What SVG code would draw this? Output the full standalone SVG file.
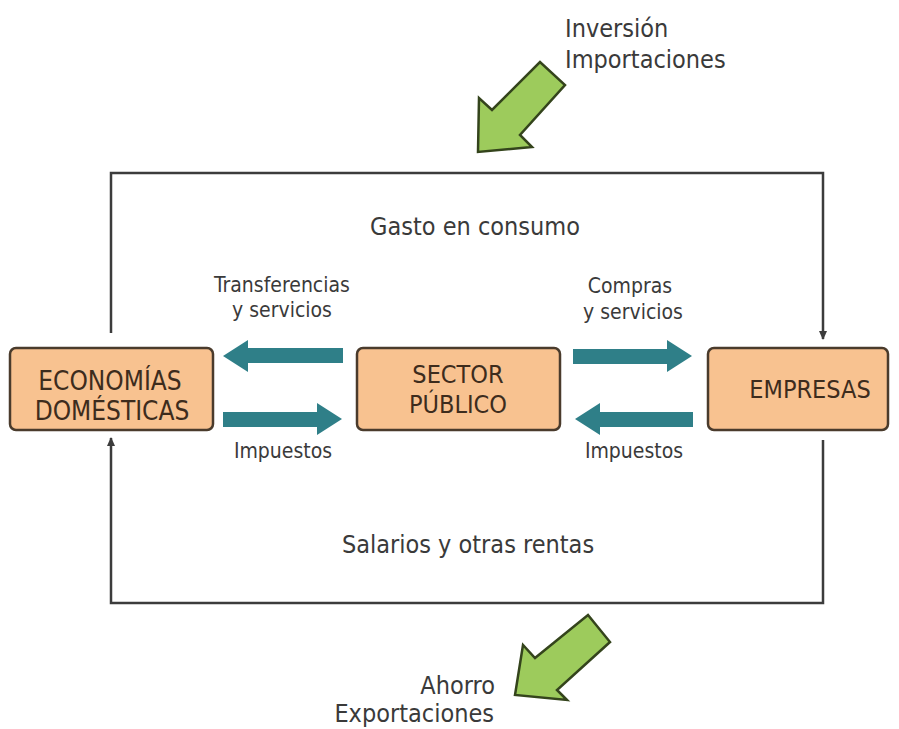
<svg xmlns="http://www.w3.org/2000/svg" width="899" height="729" viewBox="0 0 899 729">
<style>
  text { font-family: "DejaVu Sans Condensed", "DejaVu Sans", sans-serif; font-stretch: condensed; fill: #3a3a3a; }
  .box { fill: #F8C290; stroke: #4a3b2c; stroke-width: 2.5; }
  .bt { fill: #3d2c1d; font-size: 25px; text-anchor: middle; }
  .big { font-size: 25px; }
  .sm { font-size: 21px; text-anchor: middle; }
  .mid { text-anchor: middle; }
  .line { fill: none; stroke: #3c3c3c; stroke-width: 2.5; }
  .teal { fill: #2F7F88; }
  .green { fill: #9DCB5C; stroke: #34441c; stroke-width: 2.5; stroke-linejoin: miter; }
</style>
<defs>
  <marker id="ah" markerWidth="10" markerHeight="10" refX="8" refY="5" orient="auto" markerUnits="userSpaceOnUse">
    <path d="M0,1 L9,5 L0,9 z" fill="#3c3c3c"/>
  </marker>
</defs>
<rect width="899" height="729" fill="#ffffff"/>

<g id="connectors">
  <path class="line" d="M111,333 V173 H823 V339" marker-end="url(#ah)"/>
  <path class="line" d="M823,440 V603 H111 V438" marker-end="url(#ah)"/>
  <polygon class="teal" points="223,356 248,340 248,348 343,348 343,363 248,363 248,372"/>
  <polygon class="teal" points="342,419 317,403 317,412 223,412 223,427 317,427 317,435"/>
  <polygon class="teal" points="692,356 667,340 667,349 573,349 573,364 667,364 667,372"/>
  <polygon class="teal" points="575,419 600,403 600,412 693,412 693,427 600,427 600,435"/>
  <polygon class="green" points="478,152 479,98 492,110 540,62 565,85 520,135 532,147"/>
  <polygon class="green" points="515,695 523,645 535,658 588,615 610,642 557,690 567,700"/>
</g>

<g id="economias">
  <rect class="box" x="10" y="348" width="203" height="82" rx="6"/>
  <text class="bt" x="110" y="390" style="font-size:26px">ECONOMÍAS</text>
  <text class="bt" x="112" y="420" style="font-size:26px">DOMÉSTICAS</text>
</g>

<g id="sector">
  <rect class="box" x="357" y="348" width="203" height="82" rx="6"/>
  <text class="bt" x="458" y="383">SECTOR</text>
  <text class="bt" x="458" y="413">PÚBLICO</text>
</g>

<g id="empresas">
  <rect class="box" x="708" y="348" width="180" height="82" rx="6"/>
  <text class="bt" x="810" y="398">EMPRESAS</text>
</g>

<g id="labels">
  <text class="big" x="565" y="37">Inversión</text>
  <text class="big" x="565" y="68">Importaciones</text>
  <text class="big mid" x="475" y="235">Gasto en consumo</text>
  <text class="sm" x="282" y="292">Transferencias</text>
  <text class="sm" x="282" y="317">y servicios</text>
  <text class="sm" x="630" y="293">Compras</text>
  <text class="sm" x="633" y="319">y servicios</text>
  <text class="sm" x="283" y="458">Impuestos</text>
  <text class="sm" x="634" y="458">Impuestos</text>
  <text class="big mid" x="468" y="553">Salarios y otras rentas</text>
  <text class="big" x="495" y="694" text-anchor="end">Ahorro</text>
  <text class="big" x="494" y="722" text-anchor="end">Exportaciones</text>
</g>
</svg>
